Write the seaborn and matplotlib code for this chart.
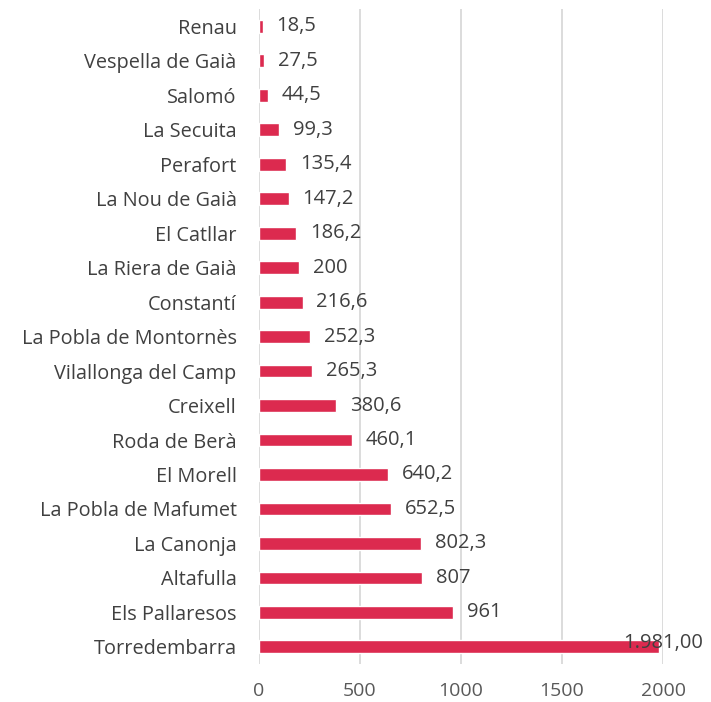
import pandas as pd
import matplotlib.pyplot as plt
import seaborn as sns

# Data
municipis = [
    "Renau", "Vespella de Gaià", "Salomó", "La Secuita", "Perafort",
    "La Nou de Gaià", "El Catllar", "La Riera de Gaià", "Constantí",
    "La Pobla de Montornès", "Vilallonga del Camp", "Creixell",
    "Roda de Berà", "El Morell", "La Pobla de Mafumet", "La Canonja",
    "Altafulla", "Els Pallaresos", "Torredembarra"
]
valors = [18.5, 27.5, 44.5, 99.3, 135.4, 147.2, 186.2, 200, 216.6, 252.3,
          265.3, 380.6, 460.1, 640.2, 652.5, 802.3, 807, 961, 1981.0]
etiquetes = ["18,5", "27,5", "44,5", "99,3", "135,4", "147,2", "186,2", "200",
             "216,6", "252,3", "265,3", "380,6", "460,1", "640,2", "652,5",
             "802,3", "807", "961", "1.981,00"]

df = pd.DataFrame({"municipi": municipis, "valor": valors})

sns.set_theme(style="white")
plt.rcParams["font.family"] = ["Open Sans", "DejaVu Sans"]

fig = plt.figure(figsize=(7.11, 7.02), dpi=100)
ax = fig.add_axes([0.364, 0.054, 0.5685, 0.933])

sns.barplot(data=df, x="valor", y="municipi", color="#DC2A4F",
            width=0.37, saturation=1, ax=ax)

# value labels
for i, (v, t) in enumerate(zip(valors, etiquetes)):
    if v > 1500:
        ax.annotate(t, (v, i), xytext=(-26, 3), textcoords="offset points",
                    va="center", ha="left", fontsize=14.5, color="#404040")
    else:
        ax.annotate(t, (v, i), xytext=(10, 0), textcoords="offset points",
                    va="center", ha="left", fontsize=14.5, color="#404040")

ax.set_xlim(0, 2000)
ax.set_xticks([0, 500, 1000, 1500, 2000])
ax.set_xlabel("")
ax.set_ylabel("")
ax.grid(axis="x", color="#D9D9D9", linewidth=1.3)
ax.set_axisbelow(True)
for s in ax.spines.values():
    s.set_visible(False)
ax.tick_params(axis="x", labelsize=14, colors="#595959", length=0, pad=13)
ax.tick_params(axis="y", labelsize=14.3, colors="#404040", length=0, pad=16)

plt.savefig("out.png", dpi=100)
plt.close()
